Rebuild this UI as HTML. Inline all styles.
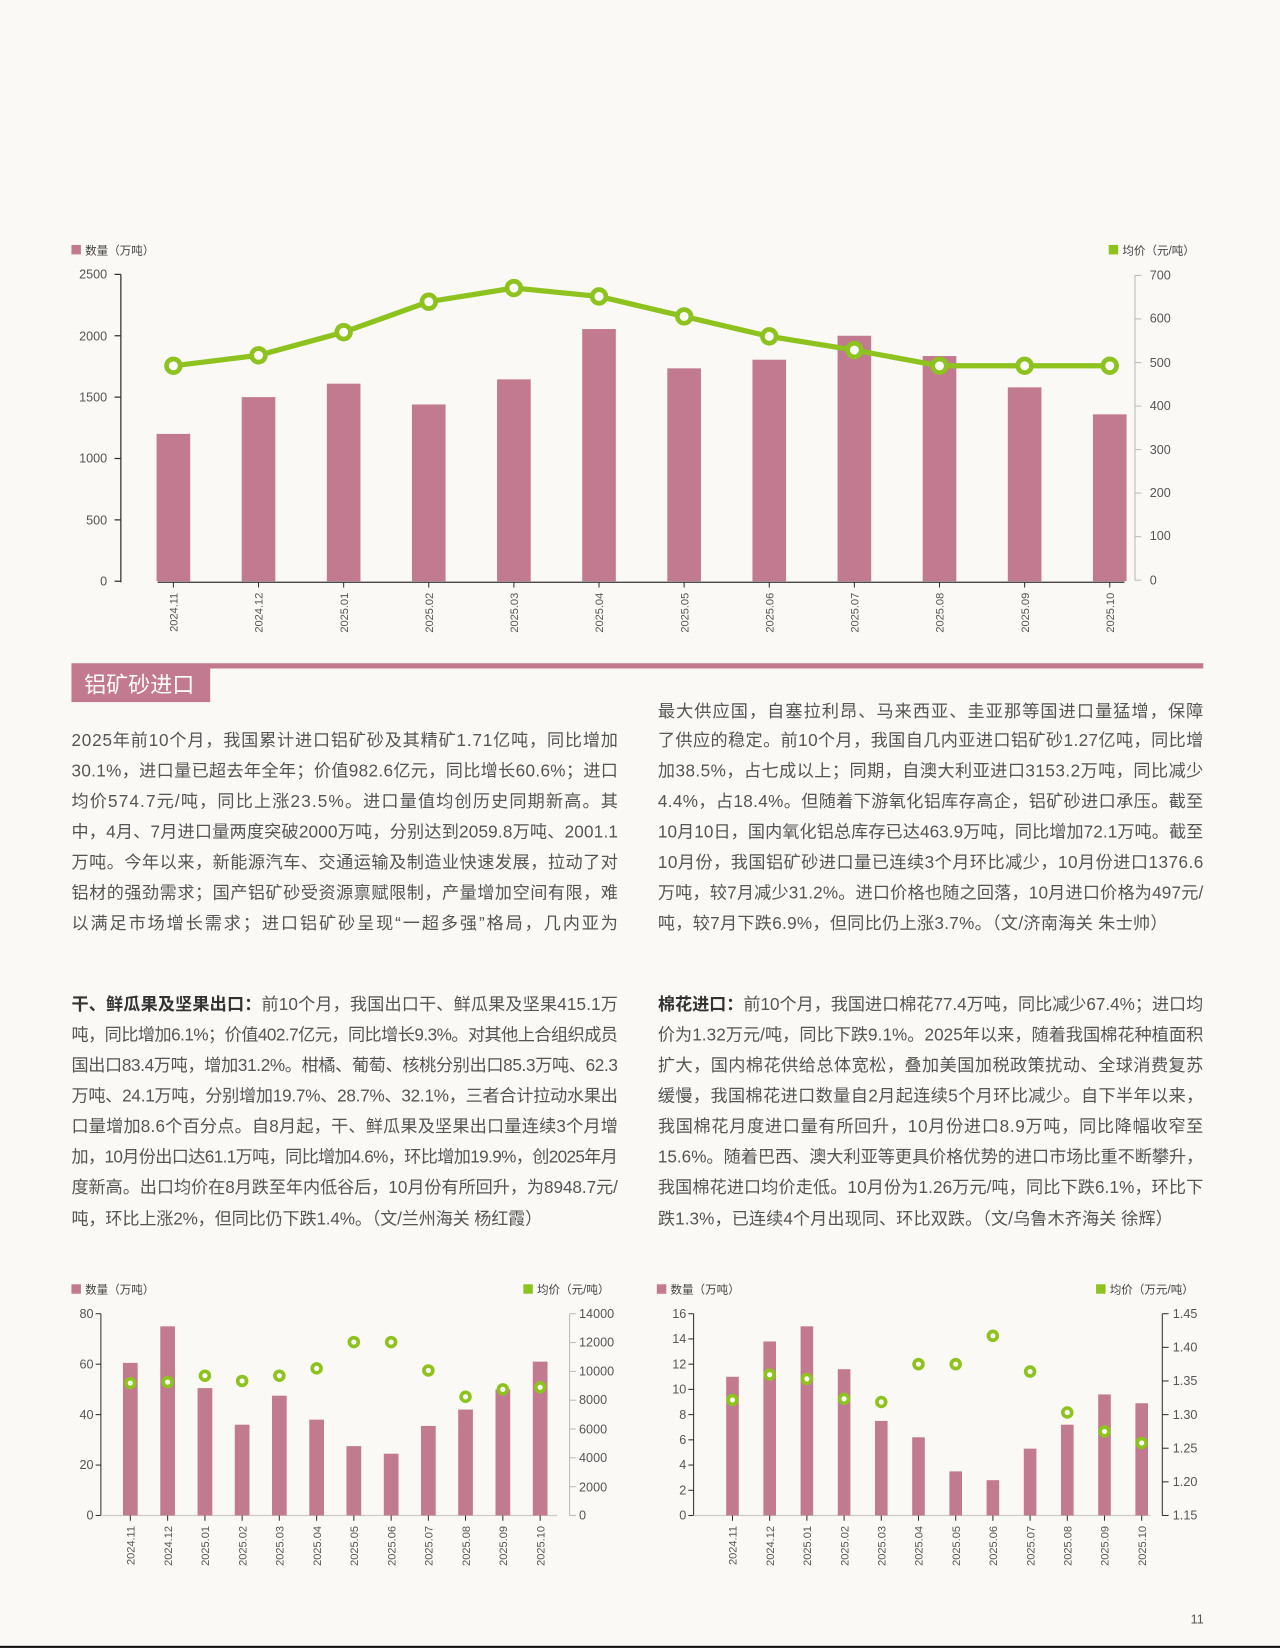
<!DOCTYPE html>
<html><head><meta charset="utf-8"><style>
html,body{margin:0;padding:0;background:#faf9f6;}
svg{display:block;}
.t{font-family:"Liberation Sans","Noto Sans CJK SC",sans-serif;fill:#555;font-size:16.3px;}
.b{font-weight:bold;fill:#333;}
.ax{font-family:"Liberation Sans","Noto Sans CJK SC",sans-serif;fill:#555;font-size:12px;}
.lg{font-family:"Liberation Sans","Noto Sans CJK SC",sans-serif;fill:#444;font-size:11px;}
.cat{font-family:"Liberation Sans",sans-serif;fill:#555;font-size:10.5px;}
.bar{fill:#c27a90;}
</style></head><body>
<svg width="1280" height="1648" viewBox="0 0 1218 1568" xmlns="http://www.w3.org/2000/svg">
<rect width="1218" height="1568" fill="#faf9f6"/>

<!-- TOP CHART -->
<rect x="68" y="233" width="9" height="9" class="bar"/>
<text x="81" y="242" class="lg">数量（万吨）</text>
<rect x="1055" y="233" width="9" height="9" fill="#8dc21f"/>
<text x="1068" y="242" class="lg">均价（元/吨）</text>
<g stroke="#333" stroke-width="1.2">
<line x1="115" y1="261" x2="115" y2="554"/>
<line x1="150" y1="554" x2="1070" y2="554"/>
<line x1="109" y1="261" x2="115" y2="261"/><line x1="109" y1="319.4" x2="115" y2="319.4"/><line x1="109" y1="377.8" x2="115" y2="377.8"/><line x1="109" y1="436.2" x2="115" y2="436.2"/><line x1="109" y1="494.6" x2="115" y2="494.6"/><line x1="109" y1="553" x2="115" y2="553"/>
</g>
<g stroke="#bbb" stroke-width="1">
<line x1="1080" y1="262" x2="1080" y2="552"/>
<line x1="1080" y1="262" x2="1086" y2="262"/><line x1="1080" y1="303.4" x2="1086" y2="303.4"/><line x1="1080" y1="344.9" x2="1086" y2="344.9"/><line x1="1080" y1="386.3" x2="1086" y2="386.3"/><line x1="1080" y1="427.7" x2="1086" y2="427.7"/><line x1="1080" y1="469.1" x2="1086" y2="469.1"/><line x1="1080" y1="510.6" x2="1086" y2="510.6"/><line x1="1080" y1="552" x2="1086" y2="552"/>
</g>
<g class="ax" text-anchor="end">
<text x="102" y="265">2500</text><text x="102" y="324">2000</text><text x="102" y="382">1500</text><text x="102" y="440">1000</text><text x="102" y="499">500</text><text x="102" y="557">0</text>
</g>
<g class="ax">
<text x="1094" y="266">700</text><text x="1094" y="307">600</text><text x="1094" y="349">500</text><text x="1094" y="390">400</text><text x="1094" y="432">300</text><text x="1094" y="473">200</text><text x="1094" y="514">100</text><text x="1094" y="556">0</text>
</g>
<g class="bar">
<rect x="149" y="412.8" width="32" height="140.2"/><rect x="230" y="377.8" width="32" height="175.2"/><rect x="311" y="365" width="32" height="188"/><rect x="392" y="384.8" width="32" height="168.2"/><rect x="473" y="360.9" width="32" height="192.1"/><rect x="554" y="313" width="32" height="240"/><rect x="635" y="350.4" width="32" height="202.6"/><rect x="716" y="342.2" width="32" height="210.8"/><rect x="797" y="319.4" width="32" height="233.6"/><rect x="878" y="338.7" width="32" height="214.3"/><rect x="959" y="368.5" width="32" height="184.5"/><rect x="1040" y="394.2" width="32" height="158.8"/>
</g>
<polyline points="165,348 246,338 327,316 408,287 489,274 570,282 651,301 732,320 813,333 894,348 975,348 1056,348" fill="none" stroke="#8dc21f" stroke-width="5" stroke-linejoin="round"/>
<g fill="#fff" stroke="#8dc21f" stroke-width="4.5">
<circle cx="165" cy="348" r="6.5"/><circle cx="246" cy="338" r="6.5"/><circle cx="327" cy="316" r="6.5"/><circle cx="408" cy="287" r="6.5"/><circle cx="489" cy="274" r="6.5"/><circle cx="570" cy="282" r="6.5"/><circle cx="651" cy="301" r="6.5"/><circle cx="732" cy="320" r="6.5"/><circle cx="813" cy="333" r="6.5"/><circle cx="894" cy="348" r="6.5"/><circle cx="975" cy="348" r="6.5"/><circle cx="1056" cy="348" r="6.5"/>
</g>
<g stroke="#333" stroke-width="1"><line x1="165" y1="554" x2="165" y2="559"/><line x1="246" y1="554" x2="246" y2="559"/><line x1="327" y1="554" x2="327" y2="559"/><line x1="408" y1="554" x2="408" y2="559"/><line x1="489" y1="554" x2="489" y2="559"/><line x1="570" y1="554" x2="570" y2="559"/><line x1="651" y1="554" x2="651" y2="559"/><line x1="732" y1="554" x2="732" y2="559"/><line x1="813" y1="554" x2="813" y2="559"/><line x1="894" y1="554" x2="894" y2="559"/><line x1="975" y1="554" x2="975" y2="559"/><line x1="1056" y1="554" x2="1056" y2="559"/></g>
<g class="cat" text-anchor="end">
<text transform="translate(169,564) rotate(-90)">2024.11</text><text transform="translate(250,564) rotate(-90)">2024.12</text><text transform="translate(331,564) rotate(-90)">2025.01</text><text transform="translate(412,564) rotate(-90)">2025.02</text><text transform="translate(493,564) rotate(-90)">2025.03</text><text transform="translate(574,564) rotate(-90)">2025.04</text><text transform="translate(655,564) rotate(-90)">2025.05</text><text transform="translate(736,564) rotate(-90)">2025.06</text><text transform="translate(817,564) rotate(-90)">2025.07</text><text transform="translate(898,564) rotate(-90)">2025.08</text><text transform="translate(979,564) rotate(-90)">2025.09</text><text transform="translate(1060,564) rotate(-90)">2025.10</text>
</g>

<!-- SECTION HEADER -->
<rect x="68" y="631" width="1077" height="5" class="bar"/>
<rect x="68" y="633" width="132" height="35" class="bar"/>
<text x="80" y="659" font-family="'Liberation Sans','Noto Sans CJK SC',sans-serif" font-size="21" fill="#fff">铝矿砂进口</text>

<!-- TEXT SECTION 1 -->
<g class="t">
<text x="68" y="710" textLength="520" lengthAdjust="spacing">2025年前10个月，我国累计进口铝矿砂及其精矿1.71亿吨，同比增加</text>
<text x="68" y="739" textLength="520" lengthAdjust="spacing">30.1%，进口量已超去年全年；价值982.6亿元，同比增长60.6%；进口</text>
<text x="68" y="768" textLength="520" lengthAdjust="spacing">均价574.7元/吨，同比上涨23.5%。进口量值均创历史同期新高。其</text>
<text x="68" y="797" textLength="520" lengthAdjust="spacing">中，4月、7月进口量两度突破2000万吨，分别达到2059.8万吨、2001.1</text>
<text x="68" y="826" textLength="520" lengthAdjust="spacing">万吨。今年以来，新能源汽车、交通运输及制造业快速发展，拉动了对</text>
<text x="68" y="855" textLength="520" lengthAdjust="spacing">铝材的强劲需求；国产铝矿砂受资源禀赋限制，产量增加空间有限，难</text>
<text x="68" y="884" textLength="520" lengthAdjust="spacing">以满足市场增长需求；进口铝矿砂呈现“一超多强”格局，几内亚为</text>

<text x="626" y="682" textLength="519" lengthAdjust="spacing">最大供应国，自塞拉利昂、马来西亚、圭亚那等国进口量猛增，保障</text>
<text x="626" y="710" textLength="519" lengthAdjust="spacing">了供应的稳定。前10个月，我国自几内亚进口铝矿砂1.27亿吨，同比增</text>
<text x="626" y="739" textLength="519" lengthAdjust="spacing">加38.5%，占七成以上；同期，自澳大利亚进口3153.2万吨，同比减少</text>
<text x="626" y="768" textLength="519" lengthAdjust="spacing">4.4%，占18.4%。但随着下游氧化铝库存高企，铝矿砂进口承压。截至</text>
<text x="626" y="797" textLength="519" lengthAdjust="spacing">10月10日，国内氧化铝总库存已达463.9万吨，同比增加72.1万吨。截至</text>
<text x="626" y="826" textLength="519" lengthAdjust="spacing">10月份，我国铝矿砂进口量已连续3个月环比减少，10月份进口1376.6</text>
<text x="626" y="855" textLength="519" lengthAdjust="spacing">万吨，较7月减少31.2%。进口价格也随之回落，10月进口价格为497元/</text>
<text x="626" y="884" textLength="485" lengthAdjust="spacing">吨，较7月下跌6.9%，但同比仍上涨3.7%。（文/济南海关 朱士帅）</text>
</g>

<!-- TEXT SECTION 2 -->
<g class="t">
<text x="68" y="961" textLength="520" lengthAdjust="spacing"><tspan class="b">干、鲜瓜果及坚果出口：</tspan>前10个月，我国出口干、鲜瓜果及坚果415.1万</text>
<text x="68" y="990" textLength="520" lengthAdjust="spacing">吨，同比增加6.1%；价值402.7亿元，同比增长9.3%。对其他上合组织成员</text>
<text x="68" y="1019" textLength="520" lengthAdjust="spacing">国出口83.4万吨，增加31.2%。柑橘、葡萄、核桃分别出口85.3万吨、62.3</text>
<text x="68" y="1048" textLength="520" lengthAdjust="spacing">万吨、24.1万吨，分别增加19.7%、28.7%、32.1%，三者合计拉动水果出</text>
<text x="68" y="1077" textLength="520" lengthAdjust="spacing">口量增加8.6个百分点。自8月起，干、鲜瓜果及坚果出口量连续3个月增</text>
<text x="68" y="1106" textLength="520" lengthAdjust="spacing">加，10月份出口达61.1万吨，同比增加4.6%，环比增加19.9%，创2025年月</text>
<text x="68" y="1135" textLength="520" lengthAdjust="spacing">度新高。出口均价在8月跌至年内低谷后，10月份有所回升，为8948.7元/</text>
<text x="68" y="1165" textLength="448" lengthAdjust="spacing">吨，环比上涨2%，但同比仍下跌1.4%。（文/兰州海关 杨红霞）</text>

<text x="626" y="961" textLength="519" lengthAdjust="spacing"><tspan class="b">棉花进口：</tspan>前10个月，我国进口棉花77.4万吨，同比减少67.4%；进口均</text>
<text x="626" y="990" textLength="519" lengthAdjust="spacing">价为1.32万元/吨，同比下跌9.1%。2025年以来，随着我国棉花种植面积</text>
<text x="626" y="1019" textLength="519" lengthAdjust="spacing">扩大，国内棉花供给总体宽松，叠加美国加税政策扰动、全球消费复苏</text>
<text x="626" y="1048" textLength="519" lengthAdjust="spacing">缓慢，我国棉花进口数量自2月起连续5个月环比减少。自下半年以来，</text>
<text x="626" y="1077" textLength="519" lengthAdjust="spacing">我国棉花月度进口量有所回升，10月份进口8.9万吨，同比降幅收窄至</text>
<text x="626" y="1106" textLength="519" lengthAdjust="spacing">15.6%。随着巴西、澳大利亚等更具价格优势的进口市场比重不断攀升，</text>
<text x="626" y="1135" textLength="519" lengthAdjust="spacing">我国棉花进口均价走低。10月份为1.26万元/吨，同比下跌6.1%，环比下</text>
<text x="626" y="1165" textLength="490" lengthAdjust="spacing">跌1.3%，已连续4个月出现同、环比双跌。（文/乌鲁木齐海关 徐辉）</text>
</g>

<!-- BOTTOM LEFT CHART -->
<rect x="68" y="1222" width="9" height="9" class="bar"/>
<text x="81" y="1231" class="lg">数量（万吨）</text>
<rect x="498" y="1222" width="9" height="9" fill="#8dc21f"/>
<text x="511" y="1231" class="lg">均价（元/吨）</text>
<g stroke="#333" stroke-width="1">
<line x1="96" y1="1250" x2="96" y2="1442"/>
<line x1="91" y1="1250" x2="96" y2="1250"/><line x1="91" y1="1298" x2="96" y2="1298"/><line x1="91" y1="1346" x2="96" y2="1346"/><line x1="91" y1="1394" x2="96" y2="1394"/><line x1="91" y1="1442" x2="96" y2="1442"/>
</g>
<line x1="96" y1="1442" x2="530" y2="1442" stroke="#ccc" stroke-width="1.2"/>
<g stroke="#bbb" stroke-width="1">
<line x1="542" y1="1250" x2="542" y2="1442"/>
<line x1="542" y1="1250" x2="548" y2="1250"/><line x1="542" y1="1277.4" x2="548" y2="1277.4"/><line x1="542" y1="1304.9" x2="548" y2="1304.9"/><line x1="542" y1="1332.3" x2="548" y2="1332.3"/><line x1="542" y1="1359.7" x2="548" y2="1359.7"/><line x1="542" y1="1387.1" x2="548" y2="1387.1"/><line x1="542" y1="1414.6" x2="548" y2="1414.6"/><line x1="542" y1="1442" x2="548" y2="1442"/>
</g>
<g class="ax" text-anchor="end">
<text x="89" y="1254">80</text><text x="89" y="1302">60</text><text x="89" y="1350">40</text><text x="89" y="1398">20</text><text x="89" y="1446">0</text>
</g>
<g class="ax">
<text x="551" y="1254">14000</text><text x="551" y="1281">12000</text><text x="551" y="1309">10000</text><text x="551" y="1336">8000</text><text x="551" y="1364">6000</text><text x="551" y="1391">4000</text><text x="551" y="1419">2000</text><text x="551" y="1446">0</text>
</g>
<g class="bar">
<rect x="117" y="1296.8" width="14" height="145.2"/><rect x="152.5" y="1262" width="14" height="180"/><rect x="188" y="1320.8" width="14" height="121.2"/><rect x="223.4" y="1355.6" width="14" height="86.4"/><rect x="258.8" y="1328" width="14" height="114"/><rect x="294.3" y="1350.8" width="14" height="91.2"/><rect x="329.7" y="1376" width="14" height="66"/><rect x="365.2" y="1383.2" width="14" height="58.8"/><rect x="400.6" y="1356.8" width="14" height="85.2"/><rect x="436" y="1341.2" width="14" height="100.8"/><rect x="471.5" y="1322" width="14" height="120"/><rect x="507" y="1295.6" width="14" height="146.4"/>
</g>
<g fill="#fff" stroke="#8dc21f" stroke-width="3.5">
<circle cx="124" cy="1316" r="4.2"/><circle cx="159.5" cy="1315" r="4.2"/><circle cx="195" cy="1309" r="4.2"/><circle cx="230.4" cy="1314" r="4.2"/><circle cx="265.8" cy="1309" r="4.2"/><circle cx="301.3" cy="1302" r="4.2"/><circle cx="336.7" cy="1277" r="4.2"/><circle cx="372.2" cy="1277" r="4.2"/><circle cx="407.6" cy="1304" r="4.2"/><circle cx="443" cy="1329" r="4.2"/><circle cx="478.5" cy="1322" r="4.2"/><circle cx="514" cy="1320" r="4.2"/>
</g>
<g stroke="#333" stroke-width="1"><line x1="124" y1="1442" x2="124" y2="1447"/><line x1="159.5" y1="1442" x2="159.5" y2="1447"/><line x1="195" y1="1442" x2="195" y2="1447"/><line x1="230.4" y1="1442" x2="230.4" y2="1447"/><line x1="265.8" y1="1442" x2="265.8" y2="1447"/><line x1="301.3" y1="1442" x2="301.3" y2="1447"/><line x1="336.7" y1="1442" x2="336.7" y2="1447"/><line x1="372.2" y1="1442" x2="372.2" y2="1447"/><line x1="407.6" y1="1442" x2="407.6" y2="1447"/><line x1="443" y1="1442" x2="443" y2="1447"/><line x1="478.5" y1="1442" x2="478.5" y2="1447"/><line x1="514" y1="1442" x2="514" y2="1447"/></g>
<g class="cat" text-anchor="end">
<text transform="translate(128,1452) rotate(-90)">2024.11</text><text transform="translate(163.5,1452) rotate(-90)">2024.12</text><text transform="translate(199,1452) rotate(-90)">2025.01</text><text transform="translate(234.4,1452) rotate(-90)">2025.02</text><text transform="translate(269.8,1452) rotate(-90)">2025.03</text><text transform="translate(305.3,1452) rotate(-90)">2025.04</text><text transform="translate(340.7,1452) rotate(-90)">2025.05</text><text transform="translate(376.2,1452) rotate(-90)">2025.06</text><text transform="translate(411.6,1452) rotate(-90)">2025.07</text><text transform="translate(447,1452) rotate(-90)">2025.08</text><text transform="translate(482.5,1452) rotate(-90)">2025.09</text><text transform="translate(518,1452) rotate(-90)">2025.10</text>
</g>

<!-- BOTTOM RIGHT CHART -->
<rect x="625" y="1222" width="9" height="9" class="bar"/>
<text x="638" y="1231" class="lg">数量（万吨）</text>
<rect x="1043" y="1222" width="9" height="9" fill="#8dc21f"/>
<text x="1056" y="1231" class="lg">均价（万元/吨）</text>
<g stroke="#333" stroke-width="1">
<line x1="660" y1="1250" x2="660" y2="1442"/>
<line x1="655" y1="1250" x2="660" y2="1250"/><line x1="655" y1="1274" x2="660" y2="1274"/><line x1="655" y1="1298" x2="660" y2="1298"/><line x1="655" y1="1322" x2="660" y2="1322"/><line x1="655" y1="1346" x2="660" y2="1346"/><line x1="655" y1="1370" x2="660" y2="1370"/><line x1="655" y1="1394" x2="660" y2="1394"/><line x1="655" y1="1418" x2="660" y2="1418"/><line x1="655" y1="1442" x2="660" y2="1442"/>
<line x1="1106" y1="1250" x2="1106" y2="1442"/>
<line x1="1106" y1="1250" x2="1112" y2="1250"/><line x1="1106" y1="1282" x2="1112" y2="1282"/><line x1="1106" y1="1314" x2="1112" y2="1314"/><line x1="1106" y1="1346" x2="1112" y2="1346"/><line x1="1106" y1="1378" x2="1112" y2="1378"/><line x1="1106" y1="1410" x2="1112" y2="1410"/><line x1="1106" y1="1442" x2="1112" y2="1442"/>
</g>
<line x1="660" y1="1442" x2="1095" y2="1442" stroke="#ccc" stroke-width="1.2"/>
<g class="ax" text-anchor="end">
<text x="653" y="1254">16</text><text x="653" y="1278">14</text><text x="653" y="1302">12</text><text x="653" y="1326">10</text><text x="653" y="1350">8</text><text x="653" y="1374">6</text><text x="653" y="1398">4</text><text x="653" y="1422">2</text><text x="653" y="1446">0</text>
</g>
<g class="ax">
<text x="1116" y="1254">1.45</text><text x="1116" y="1286">1.40</text><text x="1116" y="1318">1.35</text><text x="1116" y="1350">1.30</text><text x="1116" y="1382">1.25</text><text x="1116" y="1414">1.20</text><text x="1116" y="1446">1.15</text>
</g>
<g class="bar">
<rect x="691" y="1310" width="12" height="132"/><rect x="726.4" y="1276.4" width="12" height="165.6"/><rect x="761.8" y="1262" width="12" height="180"/><rect x="797.2" y="1302.8" width="12" height="139.2"/><rect x="832.6" y="1352" width="12" height="90"/><rect x="868" y="1367.6" width="12" height="74.4"/><rect x="903.4" y="1400" width="12" height="42"/><rect x="938.8" y="1408.4" width="12" height="33.6"/><rect x="974.2" y="1378.4" width="12" height="63.6"/><rect x="1009.6" y="1355.6" width="12" height="86.4"/><rect x="1045" y="1326.8" width="12" height="115.2"/><rect x="1080.4" y="1335.2" width="12" height="106.8"/>
</g>
<g fill="#fff" stroke="#8dc21f" stroke-width="3.5">
<circle cx="697" cy="1332" r="4.2"/><circle cx="732.4" cy="1308" r="4.2"/><circle cx="767.8" cy="1312" r="4.2"/><circle cx="803.2" cy="1331" r="4.2"/><circle cx="838.6" cy="1334" r="4.2"/><circle cx="874" cy="1298" r="4.2"/><circle cx="909.4" cy="1298" r="4.2"/><circle cx="944.8" cy="1271" r="4.2"/><circle cx="980.2" cy="1305" r="4.2"/><circle cx="1015.6" cy="1344" r="4.2"/><circle cx="1051" cy="1362" r="4.2"/><circle cx="1086.4" cy="1373" r="4.2"/>
</g>
<g stroke="#333" stroke-width="1"><line x1="697" y1="1442" x2="697" y2="1447"/><line x1="732.4" y1="1442" x2="732.4" y2="1447"/><line x1="767.8" y1="1442" x2="767.8" y2="1447"/><line x1="803.2" y1="1442" x2="803.2" y2="1447"/><line x1="838.6" y1="1442" x2="838.6" y2="1447"/><line x1="874" y1="1442" x2="874" y2="1447"/><line x1="909.4" y1="1442" x2="909.4" y2="1447"/><line x1="944.8" y1="1442" x2="944.8" y2="1447"/><line x1="980.2" y1="1442" x2="980.2" y2="1447"/><line x1="1015.6" y1="1442" x2="1015.6" y2="1447"/><line x1="1051" y1="1442" x2="1051" y2="1447"/><line x1="1086.4" y1="1442" x2="1086.4" y2="1447"/></g>
<g class="cat" text-anchor="end">
<text transform="translate(701,1452) rotate(-90)">2024.11</text><text transform="translate(736.4,1452) rotate(-90)">2024.12</text><text transform="translate(771.8,1452) rotate(-90)">2025.01</text><text transform="translate(807.2,1452) rotate(-90)">2025.02</text><text transform="translate(842.6,1452) rotate(-90)">2025.03</text><text transform="translate(878,1452) rotate(-90)">2025.04</text><text transform="translate(913.4,1452) rotate(-90)">2025.05</text><text transform="translate(948.8,1452) rotate(-90)">2025.06</text><text transform="translate(984.2,1452) rotate(-90)">2025.07</text><text transform="translate(1019.6,1452) rotate(-90)">2025.08</text><text transform="translate(1055,1452) rotate(-90)">2025.09</text><text transform="translate(1090.4,1452) rotate(-90)">2025.10</text>
</g>

<text x="1133" y="1545" class="ax" font-size="13">11</text>
<rect x="0" y="1566" width="1218" height="2" fill="#111"/>
</svg>
</body></html>
